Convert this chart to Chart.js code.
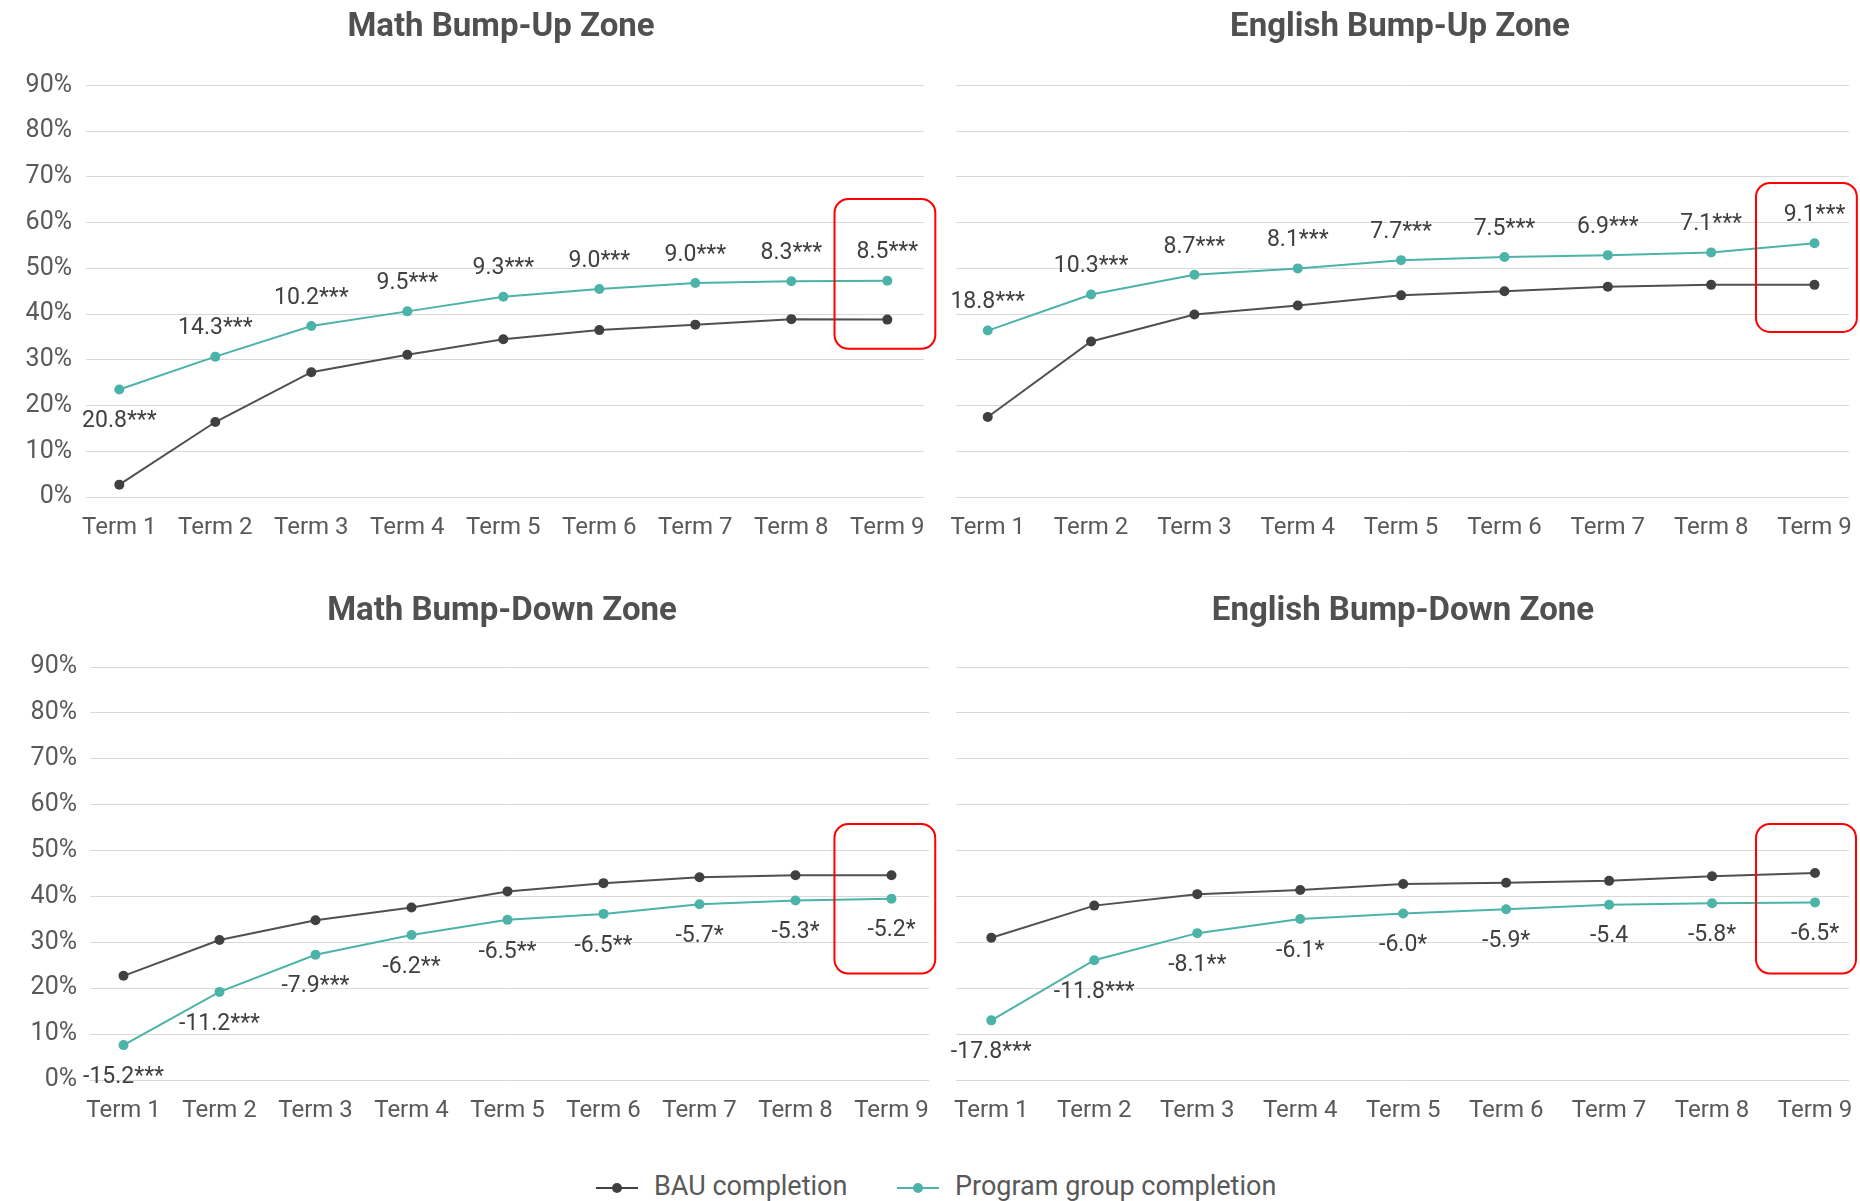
<!DOCTYPE html>
<html>
<head>
<meta charset="utf-8">
<script src="https://cdn.jsdelivr.net/npm/chart.js@4.4.0/dist/chart.umd.min.js"></script>
<style>
    body { margin: 0; background: #fff; width: 1860px; height: 1201px; position: relative; overflow: hidden; font-family: Roboto, sans-serif; }
    canvas { position: absolute; }
    .legend-item { position: absolute; top: 1168px; font-size: 27px; color: #595959; line-height: 36px; white-space: nowrap; }
    .legend-line { display: inline-block; position: relative; width: 42px; height: 2px; vertical-align: middle; margin-right: 16px; }
    .legend-line::after { content: ""; position: absolute; left: 16px; top: -4px; width: 10px; height: 10px; border-radius: 50%; background: inherit; }
</style>
</head>
<body>
<canvas id="mathUp" width="1000" height="560" style="left:0;top:0"></canvas>
<canvas id="englishUp" width="920" height="560" style="left:940px;top:0"></canvas>
<canvas id="mathDown" width="1000" height="560" style="left:0;top:580px"></canvas>
<canvas id="englishDown" width="920" height="560" style="left:940px;top:580px"></canvas>

<div class="legend-item" style="left:596px"><span class="legend-line" style="background:#404040"></span>BAU completion</div>
<div class="legend-item" style="left:897px"><span class="legend-line" style="background:#4cb3a8"></span>Program group completion</div>

<script>
const terms = ['Term 1', 'Term 2', 'Term 3', 'Term 4', 'Term 5', 'Term 6', 'Term 7', 'Term 8', 'Term 9'];

// Math Bump-Up Zone
const mathUpBau = [2.7, 16.4, 27.3, 31.1, 34.5, 36.5, 37.7, 38.9, 38.8];
const mathUpProgram = [23.5, 30.7, 37.4, 40.6, 43.8, 45.5, 46.8, 47.2, 47.3];
const mathUpLabels = ['20.8***', '14.3***', '10.2***', '9.5***', '9.3***', '9.0***', '9.0***', '8.3***', '8.5***'];

// English Bump-Up Zone
const englishUpBau = [17.5, 34.0, 39.9, 41.9, 44.1, 45.0, 46.0, 46.4, 46.4];
const englishUpProgram = [36.4, 44.3, 48.6, 50.0, 51.8, 52.5, 52.9, 53.5, 55.5];
const englishUpLabels = ['18.8***', '10.3***', '8.7***', '8.1***', '7.7***', '7.5***', '6.9***', '7.1***', '9.1***'];

// Math Bump-Down Zone
const mathDownBau = [22.7, 30.5, 34.8, 37.6, 41.1, 42.9, 44.2, 44.6, 44.6];
const mathDownProgram = [7.6, 19.2, 27.3, 31.6, 34.9, 36.2, 38.3, 39.1, 39.5];
const mathDownLabels = ['-15.2***', '-11.2***', '-7.9***', '-6.2**', '-6.5**', '-6.5**', '-5.7*', '-5.3*', '-5.2*'];

// English Bump-Down Zone
const englishDownBau = [31.0, 38.0, 40.5, 41.4, 42.7, 43.0, 43.4, 44.4, 45.1];
const englishDownProgram = [13.0, 26.1, 32.0, 35.1, 36.3, 37.2, 38.2, 38.5, 38.7];
const englishDownLabels = ['-17.8***', '-11.8***', '-8.1**', '-6.1*', '-6.0*', '-5.9*', '-5.4', '-5.8*', '-6.5*'];

const yTicks = [0, 10, 20, 30, 40, 50, 60, 70, 80, 90];

const BAU_COLOR = '#404040';
const PROGRAM_COLOR = '#4cb3a8';

Chart.defaults.font.family = 'Roboto';
Chart.defaults.color = '#595959';

// panel title, centred on a fixed spot of the canvas
const panelTitle = {
    id: 'panelTitle',
    afterDraw(chart, args, opts) {
        const ctx = chart.ctx;
        ctx.save();
        ctx.font = 'bold 33px Roboto';
        ctx.fillStyle = '#505050';
        ctx.textAlign = 'center';
        ctx.textBaseline = 'middle';
        ctx.fillText(opts.text, opts.x, opts.y);
        ctx.restore();
    }
};

// labels next to the program group points
const pointLabels = {
    id: 'pointLabels',
    afterDatasetsDraw(chart, args, opts) {
        const meta = chart.getDatasetMeta(1);
        const ctx = chart.ctx;
        ctx.save();
        ctx.font = '23px Roboto';
        ctx.fillStyle = '#404040';
        ctx.textAlign = 'center';
        ctx.textBaseline = 'middle';
        meta.data.forEach((pt, i) => {
            const dy = opts.below.includes(i) ? 32 : -28;
            ctx.fillText(opts.text[i], pt.x, pt.y + dy);
        });
        ctx.restore();
    }
};

// red rounded box around Term 9
const highlightBox = {
    id: 'highlightBox',
    afterDraw(chart, args, opts) {
        const xs = chart.scales.x, ys = chart.scales.y;
        const left = xs.getPixelForValue(opts.x0);
        const right = xs.getPixelForValue(opts.x1);
        const top = ys.getPixelForValue(opts.y1);
        const bottom = ys.getPixelForValue(opts.y0);
        const ctx = chart.ctx;
        ctx.save();
        ctx.strokeStyle = '#ff0000';
        ctx.lineWidth = 2;
        ctx.beginPath();
        ctx.roundRect(left, top, right - left, bottom - top, 14);
        ctx.stroke();
        ctx.restore();
    }
};

function makePanel(id, title, bau, program, labels, p) {
    new Chart(document.getElementById(id), {
        type: 'line',
        data: {
            datasets: [{
                label: 'BAU completion',
                data: bau.map((v, i) => ({ x: i + 1, y: v })),
                borderColor: '#505050',
                backgroundColor: BAU_COLOR,
                pointBackgroundColor: BAU_COLOR,
                pointBorderWidth: 0,
                pointRadius: 5,
                borderWidth: 2,
                tension: 0
            }, {
                label: 'Program group completion',
                data: program.map((v, i) => ({ x: i + 1, y: v })),
                borderColor: PROGRAM_COLOR,
                backgroundColor: PROGRAM_COLOR,
                pointBackgroundColor: PROGRAM_COLOR,
                pointBorderWidth: 0,
                pointRadius: 5,
                borderWidth: 2,
                tension: 0
            }]
        },
        options: {
            responsive: false,
            animation: false,
            layout: { padding: { left: 0, right: p.padRight, top: p.padTop, bottom: p.padBottom } },
            scales: {
                x: {
                    type: 'linear',
                    min: p.xMin,
                    max: p.xMax,
                    grid: { display: false },
                    border: { display: false },
                    ticks: {
                        stepSize: 1,
                        includeBounds: false,
                        maxRotation: 0,
                        autoSkip: false,
                        padding: 9,
                        font: { size: 24 },
                        callback: v => terms[v - 1]
                    },
                    afterFit: s => { s.height = 45; s.paddingLeft = 0; s.paddingRight = 0; }
                },
                y: {
                    min: yTicks[0],
                    max: yTicks[yTicks.length - 1],
                    grid: { color: '#d9d9d9', drawTicks: false },
                    border: { display: false },
                    ticks: {
                        display: p.showY,
                        stepSize: 10,
                        padding: p.yPad,
                        font: { size: 25 },
                        callback: v => v + '%'
                    },
                    afterFit: s => { s.width = p.yWidth; }
                }
            },
            plugins: {
                legend: { display: false },
                tooltip: { enabled: false },
                title: { display: false },
                panelTitle: { text: title, x: p.titleX, y: p.titleY },
                pointLabels: { text: labels, below: p.below },
                highlightBox: p.box
            }
        },
        plugins: [panelTitle, pointLabels, highlightBox]
    });
}

makePanel('mathUp', 'Math Bump-Up Zone', mathUpBau, mathUpProgram, mathUpLabels, {
    xMin: 0.653, xMax: 9.382, yWidth: 86, yPad: 14, showY: true, padRight: 76, padTop: 85.5, padBottom: 18,
    titleX: 501, titleY: 28, below: [0],
    box: { x0: 8.45, x1: 9.5, y0: 32.4, y1: 65.2 }
});
makePanel('englishUp', 'English Bump-Up Zone', englishUpBau, englishUpProgram, englishUpLabels, {
    xMin: 0.693, xMax: 9.334, yWidth: 16, yPad: 0, showY: false, padRight: 11, padTop: 85.5, padBottom: 18,
    titleX: 460, titleY: 28, below: [],
    box: { x0: 8.434, x1: 9.41, y0: 36.1, y1: 68.7 }
});
makePanel('mathDown', 'Math Bump-Down Zone', mathDownBau, mathDownProgram, mathDownLabels, {
    xMin: 0.651, xMax: 9.391, yWidth: 90, yPad: 13, showY: true, padRight: 71, padTop: 87, padBottom: 15,
    titleX: 502, titleY: 32, below: [0, 1, 2, 3, 4, 5, 6, 7, 8],
    box: { x0: 8.406, x1: 9.456, y0: 23.2, y1: 55.8 }
});
makePanel('englishDown', 'English Bump-Down Zone', englishDownBau, englishDownProgram, englishDownLabels, {
    xMin: 0.657, xMax: 9.33, yWidth: 16, yPad: 0, showY: false, padRight: 11, padTop: 87, padBottom: 15,
    titleX: 463, titleY: 32, below: [0, 1, 2, 3, 4, 5, 6, 7, 8],
    box: { x0: 8.427, x1: 9.398, y0: 23.2, y1: 55.8 }
});
</script>
</body>
</html>
